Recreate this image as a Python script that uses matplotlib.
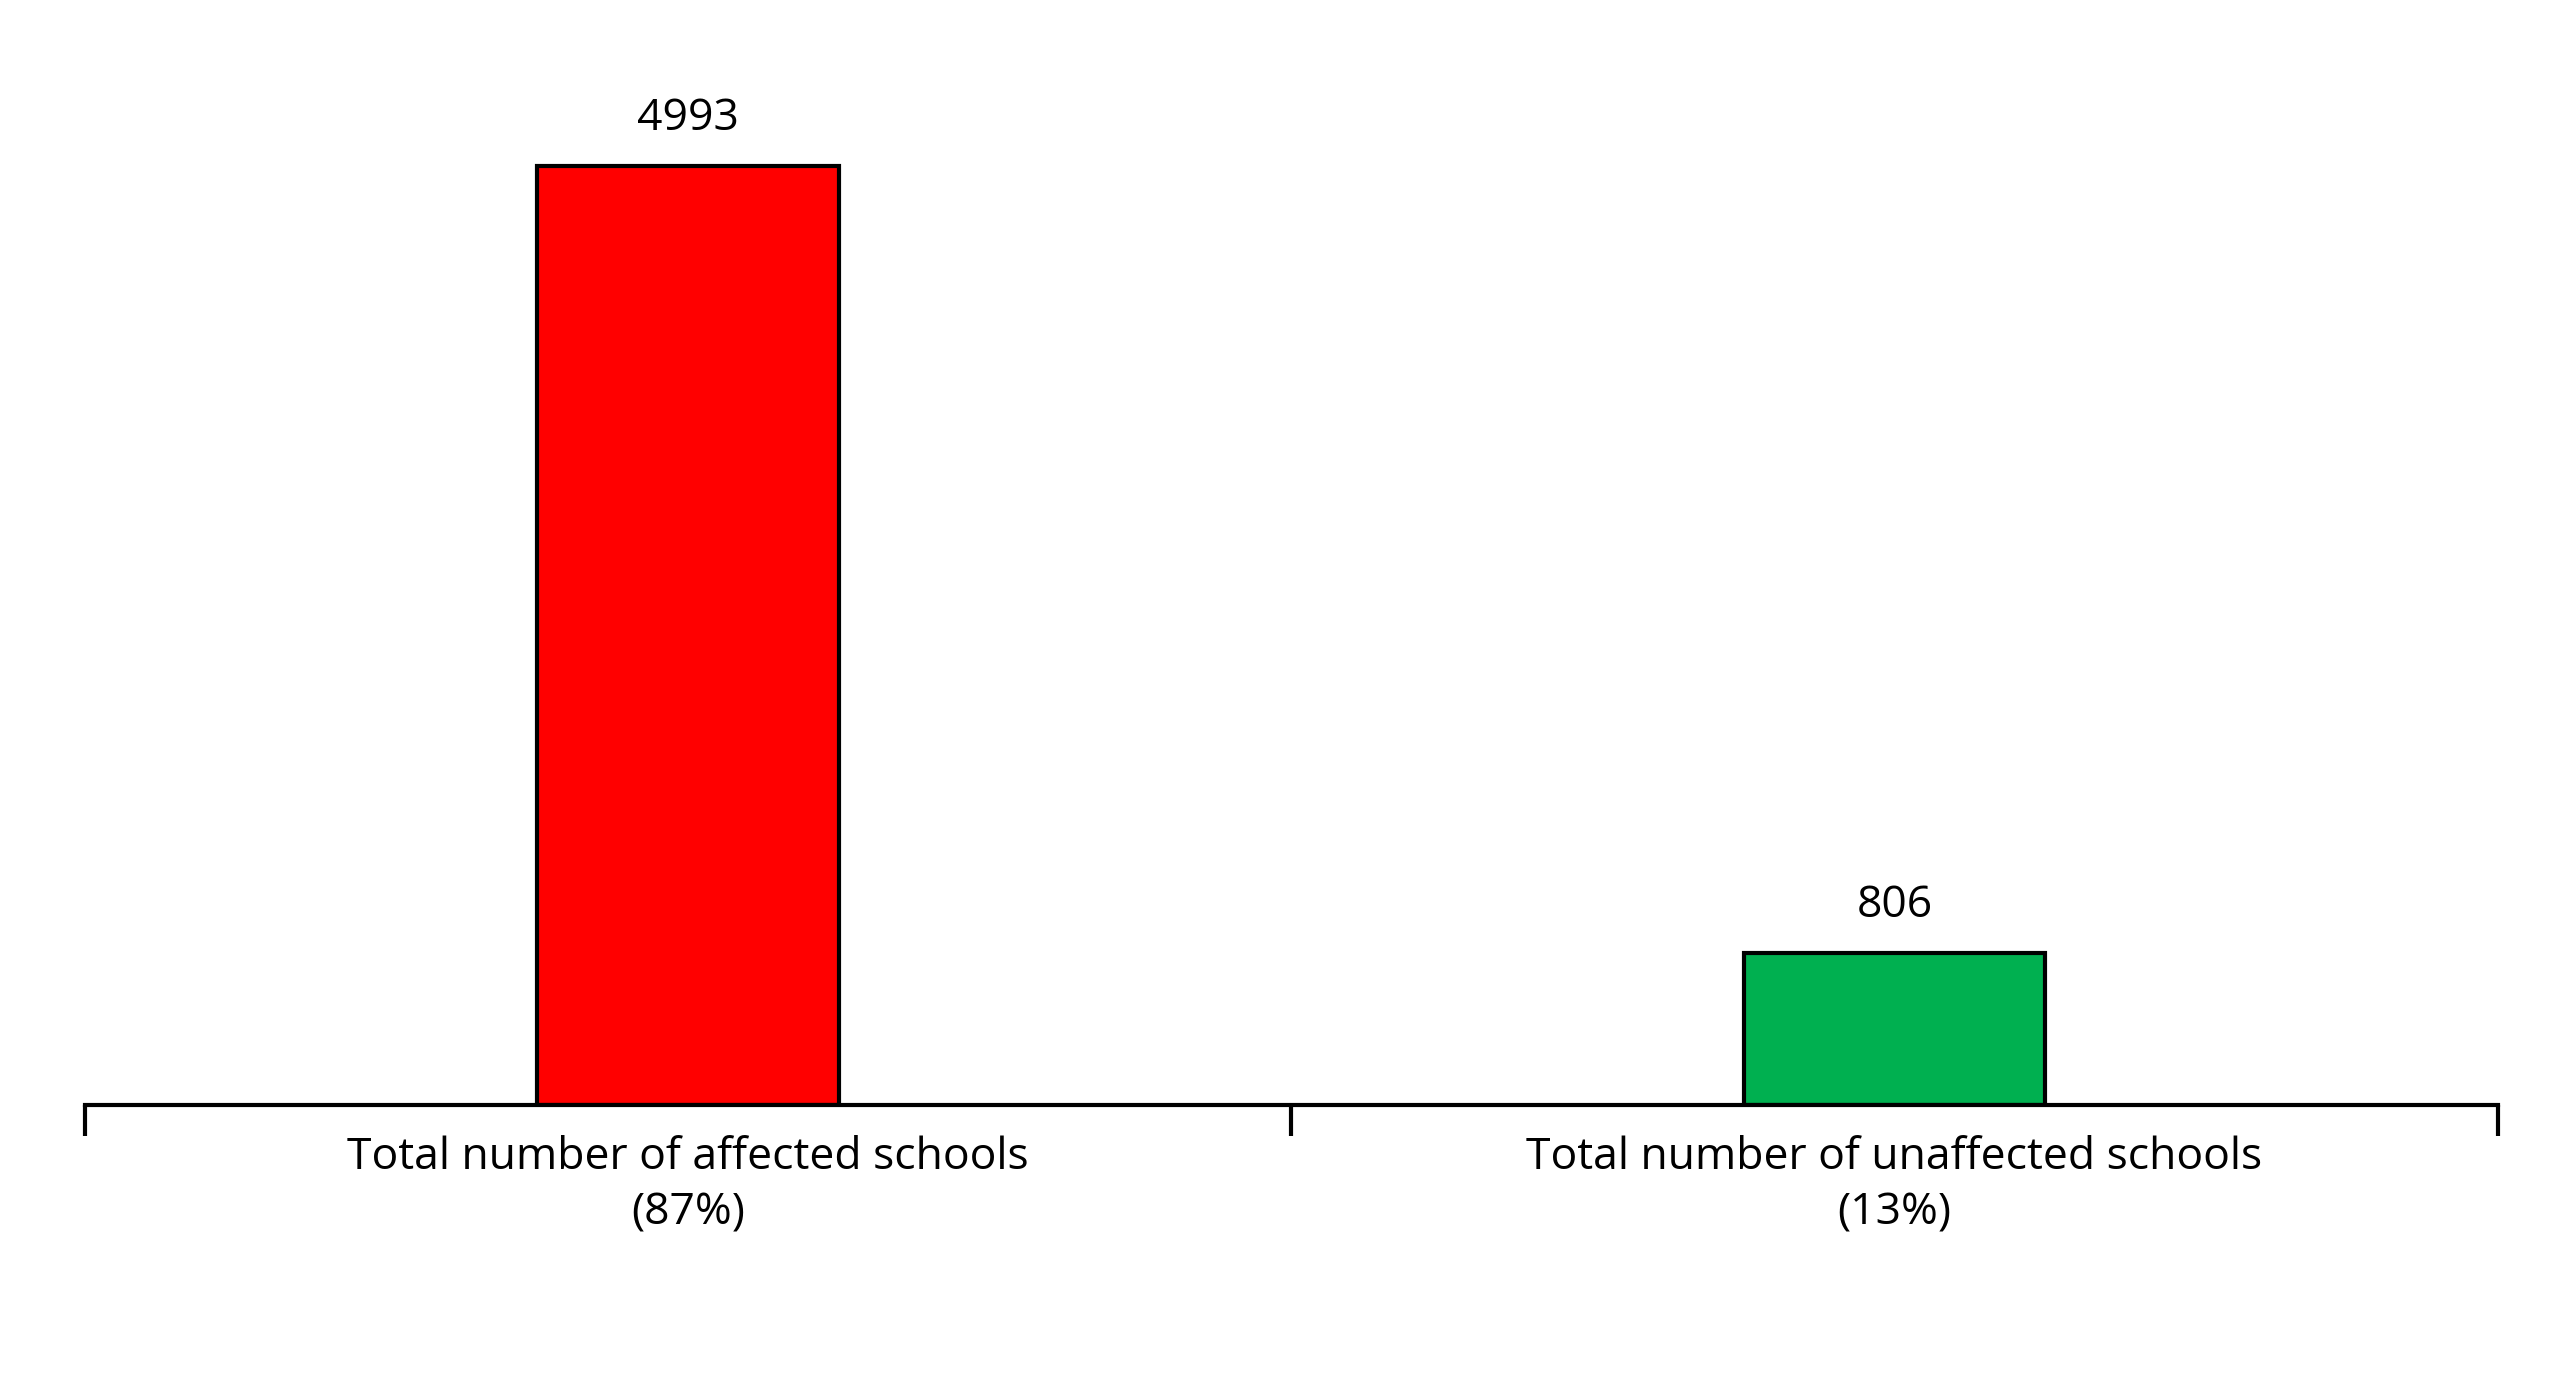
import matplotlib
matplotlib.use("Agg")
import matplotlib.pyplot as plt

categories = ["Total number of affected schools\n(87%)", "Total number of unaffected schools\n(13%)"]
values = [4993, 806]
colors = ["#FF0000", "#00B050"]

plt.rcParams['font.family'] = ['Open Sans', 'DejaVu Sans']
fig = plt.figure(figsize=(25.5, 13.79), dpi=100)
ax = fig.add_axes([0.0333, 0.199, 0.9462, 0.753])
x = [0.5, 1.5]
bars = ax.bar(x, values, width=0.25, color=colors, edgecolor="black", linewidth=3)
for xi, v in zip(x, values):
    ax.annotate(str(v), (xi, v), xytext=(0, 18), textcoords="offset points",
                ha="center", va="bottom", fontsize=32)
ax.set_xlim(0, 2)
ax.set_ylim(0, 5524)
ax.set_yticks([])
ax.set_xticks([0, 1, 2])
ax.set_xticklabels([])
ax.set_xticks(x, minor=True)
ax.set_xticklabels(categories, minor=True, fontsize=32, linespacing=1.35)
ax.tick_params(axis="x", which="minor", length=0, pad=22)
ax.tick_params(axis="x", which="major", length=22, width=3, direction="out")
for s in ["top", "right", "left"]:
    ax.spines[s].set_visible(False)
ax.spines["bottom"].set_linewidth(3)
fig.savefig("out.png", dpi=100)
